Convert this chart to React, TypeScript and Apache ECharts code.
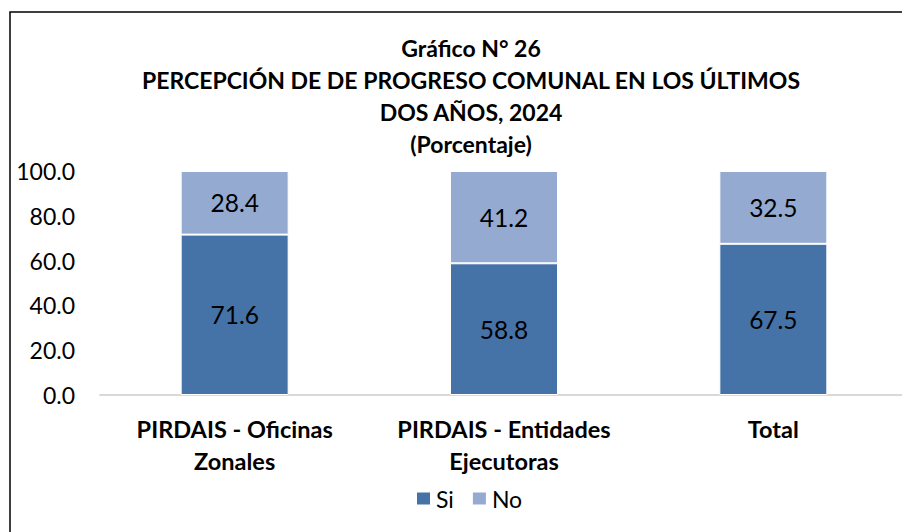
import React, { useEffect, useRef } from "react";
import * as echarts from "echarts";

const categories = ["PIRDAIS - Oficinas\nZonales", "PIRDAIS - Entidades\nEjecutoras", "Total"];
const siValues = [71.6, 58.8, 67.5];
const noValues = [28.4, 41.2, 32.5];
const seriesNames = ["Si", "No"];
const titleLines = [
  "Gráfico N° 26",
  "PERCEPCIÓN DE DE PROGRESO COMUNAL EN LOS ÚLTIMOS",
  "DOS AÑOS, 2024",
  "(Porcentaje)",
];

const FONT = "Lato, 'Open Sans', sans-serif";

export default function App() {
  const ref = useRef<HTMLDivElement>(null);
  useEffect(() => {
    if (!ref.current) return;
    const chart = echarts.init(ref.current, null, { renderer: "svg" });
    chart.setOption({
      animation: false,
      backgroundColor: "#ffffff",
      textStyle: { fontFamily: FONT },
      title: {
        text: titleLines.join("\n"),
        left: 471,
        top: 32,
        textAlign: "center",
        padding: 0,
        textStyle: {
          fontFamily: FONT,
          fontSize: 23,
          fontWeight: "bold",
          color: "#000",
          lineHeight: 32,
        },
      },
      graphic: [
        {
          type: "rect",
          shape: { x: 10, y: 12, width: 1000, height: 1000 },
          style: { fill: "none", stroke: "#000", lineWidth: 1.5 },
          silent: true,
        },
      ],
      legend: {
        data: seriesNames,
        left: 415,
        top: 487,
        icon: "rect",
        itemWidth: 15,
        itemHeight: 14,
        itemGap: 17,
        padding: 0,
        textStyle: { fontFamily: FONT, fontSize: 23, color: "#000" },
      },
      grid: {
        left: 100,
        top: 171,
        width: 808,
        bottom: 137,
        containLabel: false,
        outerBoundsMode: "none",
      },
      xAxis: {
        type: "category",
        data: categories,
        axisLine: { show: true, lineStyle: { color: "#d9d9d9", width: 2 } },
        axisTick: { show: false },
        axisLabel: {
          fontFamily: FONT,
          fontSize: 23.5,
          fontWeight: "bold",
          color: "#000",
          lineHeight: 32,
          margin: 18,
          interval: 0,
        },
      },
      yAxis: {
        type: "value",
        min: 0,
        max: 100,
        interval: 20,
        splitLine: { show: false },
        axisLine: { show: false },
        axisTick: { show: false },
        axisLabel: {
          fontFamily: FONT,
          fontSize: 23,
          color: "#000",
          margin: 25,
          formatter: (v: number) => v.toFixed(1),
        },
      },
      series: [
        {
          name: seriesNames[0],
          type: "bar",
          stack: "total",
          data: siValues,
          barWidth: 108,
          itemStyle: { color: "#4573a7", borderColor: "#ffffff", borderWidth: 1 },
          label: {
            show: true,
            position: "inside",
            fontFamily: FONT,
            fontSize: 24.5,
            color: "#000",
            formatter: (p: any) => Number(p.value).toFixed(1),
          },
        },
        {
          name: seriesNames[1],
          type: "bar",
          stack: "total",
          data: noValues,
          barWidth: 108,
          itemStyle: { color: "#95aad0", borderColor: "#ffffff", borderWidth: 1 },
          label: {
            show: true,
            position: "inside",
            fontFamily: FONT,
            fontSize: 24.5,
            color: "#000",
            formatter: (p: any) => Number(p.value).toFixed(1),
          },
        },
      ],
    });
    return () => chart.dispose();
  }, []);
  return (
    <div
      ref={ref}
      style={{ position: "absolute", left: 0, top: 0, width: 902, height: 532 }}
    />
  );
}
